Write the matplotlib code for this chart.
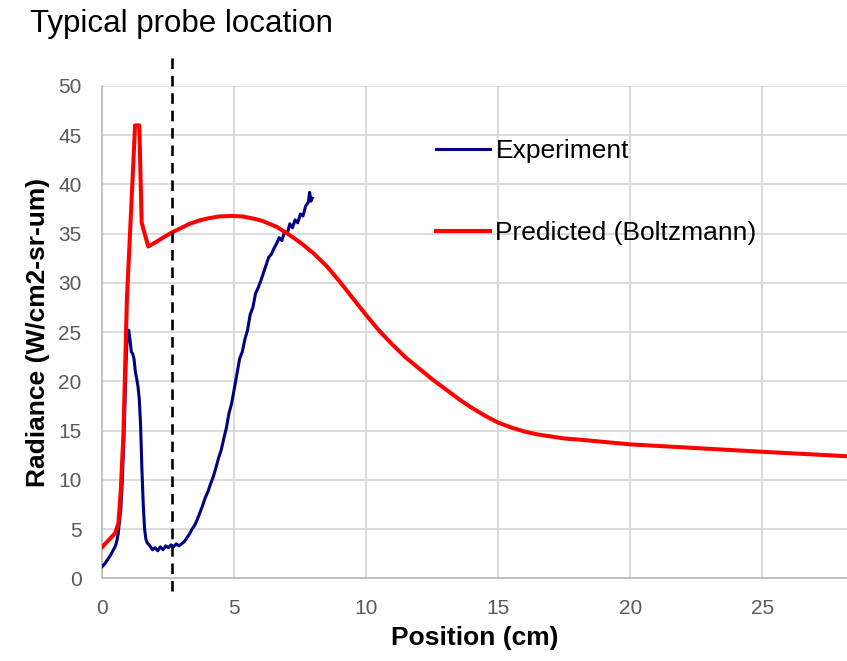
import matplotlib
matplotlib.use("Agg")
import matplotlib.pyplot as plt

plt.rcParams['font.family'] = ['Liberation Sans', 'DejaVu Sans']

# measured radiance along the flow
exp_x = [0.0, 0.1, 0.2, 0.3, 0.4, 0.5, 0.55, 0.6, 0.65, 0.7, 0.75, 0.8, 0.85, 0.9,
         0.95, 1.0, 1.05, 1.1, 1.15, 1.2, 1.25, 1.3, 1.35, 1.4, 1.45, 1.5, 1.55,
         1.6, 1.65, 1.7, 1.8, 1.9, 2.0, 2.1, 2.2, 2.3, 2.4, 2.5, 2.6, 2.7, 2.8, 2.9,
         3.0, 3.1, 3.2, 3.3, 3.4, 3.5, 3.6, 3.7, 3.8, 3.9, 4.0, 4.1, 4.2, 4.3, 4.4,
         4.5, 4.6, 4.7, 4.8, 4.9, 5.0, 5.1, 5.2, 5.3, 5.4, 5.5, 5.6, 5.7, 5.8, 5.9,
         6.0, 6.1, 6.2, 6.3, 6.4, 6.5, 6.6, 6.7, 6.8, 6.9, 7.0, 7.1, 7.2, 7.3, 7.4,
         7.5, 7.6, 7.7, 7.8, 7.85, 7.9, 7.95]
exp_y = [1.2, 1.5, 1.9, 2.3, 2.8, 3.3, 3.8, 4.5, 5.8, 7.0, 9.5, 13.0, 17.0, 22.0,
         24.8, 25.2, 24.2, 23.0, 22.8, 22.3, 21.0, 20.3, 19.5, 18.2, 15.5, 11.0, 7.5,
         5.0, 4.0, 3.6, 3.3, 2.9, 3.1, 2.8, 3.2, 2.9, 3.3, 3.1, 3.4, 3.2, 3.5, 3.3,
         3.5, 3.7, 4.1, 4.5, 5.0, 5.4, 6.0, 6.7, 7.4, 8.2, 8.8, 9.6, 10.3, 11.2, 12.2,
         13.0, 14.2, 15.3, 16.8, 17.8, 19.3, 20.8, 22.3, 23.0, 24.3, 25.2, 26.8, 27.5,
         28.9, 29.5, 30.2, 31.0, 31.8, 32.6, 32.9, 33.5, 34.0, 34.6, 34.3, 35.2, 35.0,
         36.0, 35.6, 36.4, 36.1, 37.0, 36.8, 37.8, 38.2, 39.2, 38.3, 38.6]

# predicted radiance (Boltzmann)
pred_x = [0.0, 0.25, 0.49, 0.61, 0.7, 0.8, 0.93, 1.11, 1.24, 1.40, 1.49, 1.74, 2.0,
          2.3, 2.62, 3.0, 3.3, 3.68, 4.0, 4.4, 4.9, 5.3, 5.7, 6.06, 6.6, 7.07, 7.5,
          8.0, 8.5, 9.0, 9.5, 10.0, 10.5, 11.0, 11.5, 12.0, 12.5, 13.0, 13.5, 14.0,
          14.5, 15.0, 15.5, 16.0, 16.5, 17.0, 17.5, 18.0, 19.0, 20.0, 21.0, 22.66,
          25.0, 28.2]
pred_y = [3.2, 3.9, 4.6, 5.6, 9.0, 14.7, 28.3, 38.5, 46.0, 46.0, 36.1, 33.7, 34.1,
          34.6, 35.1, 35.6, 36.0, 36.35, 36.55, 36.75, 36.8, 36.75, 36.55, 36.3,
          35.7, 34.9, 34.1, 33.0, 31.7, 30.1, 28.4, 26.7, 25.1, 23.7, 22.4, 21.3,
          20.2, 19.2, 18.2, 17.3, 16.5, 15.8, 15.3, 14.9, 14.6, 14.4, 14.2, 14.1,
          13.85, 13.6, 13.45, 13.2, 12.85, 12.4]

probe_x = 2.63
y_ticks = list(range(0, 55, 5))
x_ticks = [0, 5, 10, 15, 20, 25]

fig = plt.figure(figsize=(8.47, 6.61), dpi=100)
ax = fig.add_axes([0.1208, 0.1251, 0.8792, 0.7448])

ax.plot(exp_x, exp_y, color='#000080', lw=2.2, label='Experiment', zorder=3)
ax.plot(pred_x, pred_y, color='#ff0000', lw=2.9, label='Predicted (Boltzmann)', zorder=3)
ax.axvline(probe_x, ymin=-0.026, ymax=1.063, color='black', lw=1.9,
           linestyle=(0, (4, 2.6)), clip_on=False, zorder=4)

ax.set_xlim(0, 28.2)
ax.set_ylim(0, 50)
ax.set_xticks(x_ticks)
ax.set_yticks(y_ticks)
ax.grid(True, color='#d9d9d9', lw=1.3)
ax.set_axisbelow(True)
for s in ['top', 'right']:
    ax.spines[s].set_visible(False)
for s in ['left', 'bottom']:
    ax.spines[s].set_color('#bfbfbf')
    ax.spines[s].set_linewidth(1.3)
ax.tick_params(length=0, pad=15, labelsize=15, labelcolor='#595959')

ax.set_xlabel('Position (cm)', fontsize=19, fontweight='bold', labelpad=6)
ax.set_ylabel('Radiance (W/cm2-sr-um)', fontsize=19, fontweight='bold', labelpad=6)

fig.text(0.035, 0.9516, 'Typical probe location', fontsize=22.5, va='baseline')

ax.legend(loc='upper left', bbox_to_anchor=(436 / 847, 1 - 139 / 661),
          bbox_transform=fig.transFigure, frameon=False, fontsize=19,
          handlelength=2.05, handletextpad=0.2, labelspacing=2.2,
          borderpad=0, borderaxespad=0)

fig.savefig('out.png', dpi=100)
